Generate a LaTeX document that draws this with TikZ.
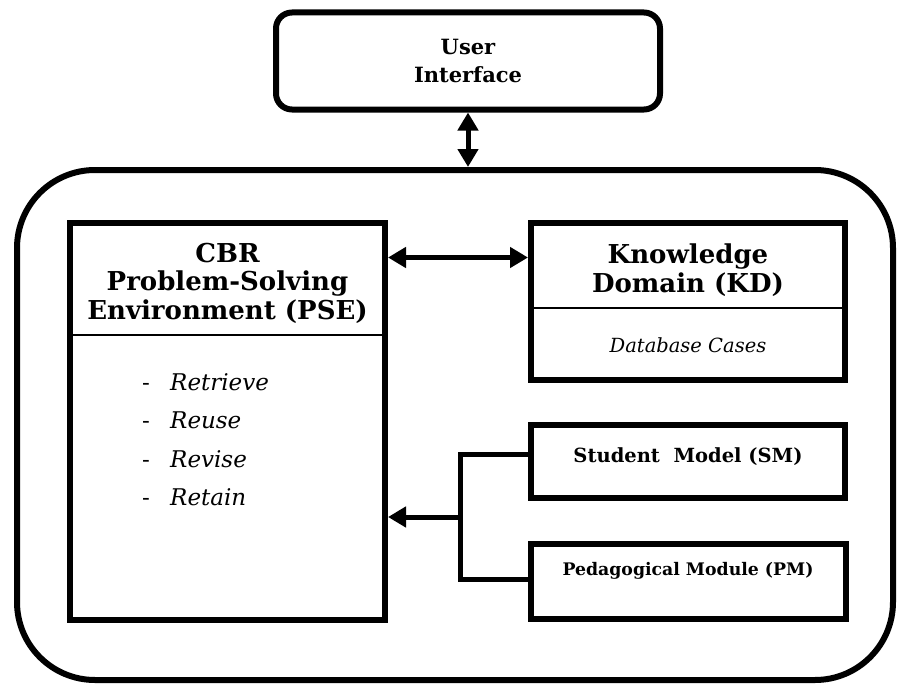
\documentclass[tikz,border=0pt]{standalone}
\usepackage{fontspec}
\setmainfont{DejaVu Serif}
\usetikzlibrary{arrows.meta, positioning, calc}

\begin{document}
\begin{tikzpicture}[
        x=1pt, y=-1pt,
        frame/.style={draw, line width=6pt, inner sep=0pt},
        module/.style={frame, minimum width=314pt},
        heading/.style={font=\bfseries\fontsize{26}{28.5}\selectfont, align=center, inner sep=0pt},
        steps/.style={font=\fontsize{23}{38.5}\selectfont, align=left, inner sep=0pt},
        note/.style={font=\itshape\fontsize{19.5}{22}\selectfont, inner sep=0pt},
        split/.style={line width=2pt},
        link/.style={line width=5pt},
        oneway/.style={link, -{Triangle[length=18pt, width=20pt]}},
        twoway/.style={link, {Triangle[length=18pt, width=20pt]}-{Triangle[length=18pt, width=20pt]}}
    ]
        \useasboundingbox (0,0) rectangle (897,685);

        \node[frame, rounded corners=78pt, minimum width=876pt, minimum height=510pt] (core) at (455,425) {};
        \node[frame, rounded corners=16pt, minimum width=384pt, minimum height=97pt, align=center,
              font=\bfseries\fontsize{21}{28}\selectfont] (ui) at (468,61) {User\\Interface};
        \draw[twoway] (ui) -- (ui |- core.north);

        \node[module, minimum width=315pt, minimum height=397pt] (pse) at (227.5,421.5) {};
        \node[heading, below=23pt of pse.north] (psetitle) {CBR\\Problem-Solving\\Environment (PSE)};
        \coordinate[below=115pt of pse.north] (psesplit);
        \draw[split] (psesplit -| pse.west) -- (psesplit -| pse.east);
        \node[steps, anchor=north west] (psesteps) at ([shift={(75,38)}]psesplit -| pse.west)
            {\makebox[28pt][l]{-}\textit{Retrieve}\\
             \makebox[28pt][l]{-}\textit{Reuse}\\
             \makebox[28pt][l]{-}\textit{Revise}\\
             \makebox[28pt][l]{-}\textit{Retain}};

        \node[module, minimum height=157pt, right=140pt of pse.north east, anchor=north west] (kd) {};
        \node[heading, below=24pt of kd.north] (kdtitle) {Knowledge\\Domain (KD)};
        \coordinate[below=88pt of kd.north] (kdsplit);
        \draw[split] (kdsplit -| kd.west) -- (kdsplit -| kd.east);
        \node[note] (kdcases) at ($(kdsplit)!0.5!(kd.south)$) {Database Cases};
        \draw[twoway] ([yshift=44pt]kd.west) -- ([yshift=44pt]kd.west -| pse.east);

        \node[module, minimum height=73pt, below=39pt of kd] (sm) {};
        \node[anchor=base, inner sep=0pt, font=\bfseries\fontsize{19.5}{22}\selectfont] (smlabel)
            at ([yshift=-40pt]sm.north) {Student\ \ Model (SM)};

        \node[module, minimum width=315pt, minimum height=75pt, below=40pt of sm] (pm) {};
        \node[anchor=base, inner sep=0pt, font=\bfseries\fontsize{17.3}{20}\selectfont] (pmlabel)
            at ([yshift=-34pt]pm.north) {Pedagogical Module (PM)};

        \coordinate (bus) at ([xshift=-68pt]sm.west);
        \coordinate (tap) at ([yshift=-55.5pt]bus);
        \draw[link] ([yshift=7pt]sm.west) -- ([yshift=7pt]bus) -- ([yshift=2pt]bus |- pm.west) -- ([yshift=2pt]pm.west);
        \draw[oneway] (tap) -- (tap -| pse.east);
    \end{tikzpicture}
\end{document}
